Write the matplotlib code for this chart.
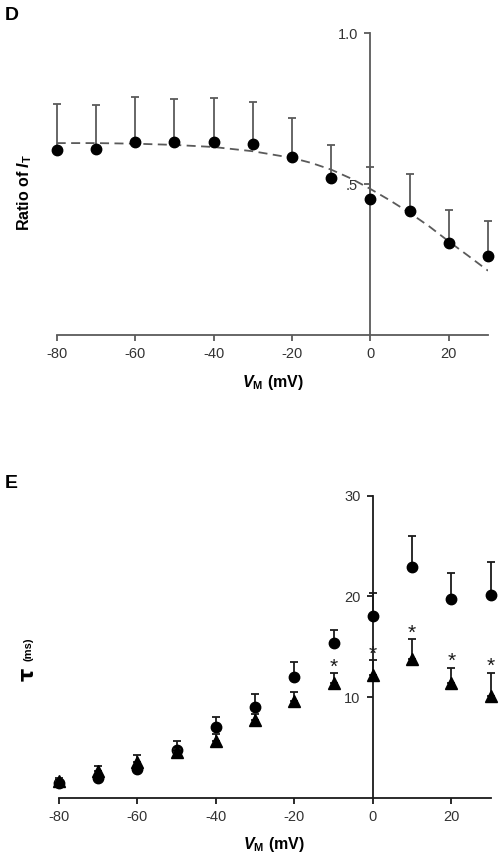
import matplotlib
matplotlib.use("Agg")
import matplotlib.pyplot as plt

plt.rcParams['font.family'] = ['Liberation Sans', 'DejaVu Sans']
plt.rcParams['axes.unicode_minus'] = False
plt.rcParams['mathtext.fontset'] = 'custom'
plt.rcParams['mathtext.rm'] = 'Liberation Sans'
plt.rcParams['mathtext.it'] = 'Liberation Sans:italic'
plt.rcParams['mathtext.bf'] = 'Liberation Sans:bold'
plt.rcParams['mathtext.bfit'] = 'Liberation Sans:italic:bold'

# Panel D: ratio of I_T vs membrane potential
v_d = [-80, -70, -60, -50, -40, -30, -20, -10, 0, 10, 20, 30]
ratio = [0.612, 0.617, 0.639, 0.639, 0.641, 0.632, 0.590, 0.519, 0.451, 0.410, 0.305, 0.261]
ratio_err = [0.154, 0.144, 0.150, 0.142, 0.145, 0.140, 0.130, 0.110, 0.107, 0.124, 0.110, 0.117]

# dashed fit curve
fit_v = [-80, -70, -60, -50, -40, -30, -20, -15, -10, -5, 0, 5, 10, 15, 20, 25, 30]
fit_y = [0.636, 0.636, 0.634, 0.630, 0.623, 0.609, 0.587, 0.570, 0.548, 0.519, 0.484, 0.446, 0.405, 0.360, 0.310, 0.262, 0.213]

# Panel E: time constants, control (circles) and treated (triangles)
v_e = [-80, -70, -60, -50, -40, -30, -20, -10, 0, 10, 20, 30]
tau_circ = [1.46, 1.95, 2.85, 4.76, 7.07, 9.06, 12.03, 15.35, 18.1, 22.95, 19.74, 20.14]
tau_circ_err = [0.3, 0.3, 0.3, 0.92, 1.0, 1.25, 1.46, 1.32, 2.2, 3.05, 2.6, 3.26]
tau_tri = [1.7, 2.7, 3.56, 4.6, 5.65, 7.74, 9.62, 11.38, 12.2, 13.79, 11.38, 10.12]
tau_tri_err = [0.3, 0.47, 0.74, 0.3, 0.7, 0.56, 0.93, 1.0, 1.5, 1.95, 1.55, 2.3]
signif = [-10, 0, 10, 20, 30]

fig = plt.figure(figsize=(5.03, 8.64), dpi=100)

grey = '#5a5a5a'
dark = '#1a1a1a'

# ---- D ----
axd = fig.add_axes([0.1127, 0.6123, 0.8575, 0.3492])
axd.plot(fit_v, fit_y, ls=(0, (5, 3)), color=grey, lw=1.3, zorder=2)
axd.errorbar(v_d, ratio, yerr=[[0] * len(ratio_err), ratio_err], fmt='o', color='black',
             ms=7.5, ecolor=grey, elinewidth=1.3, capsize=3, capthick=1.3, clip_on=False, zorder=3)
axd.set_xlim(-80, 30)
axd.set_ylim(0, 1.0)
axd.spines['top'].set_visible(False)
axd.spines['right'].set_visible(False)
axd.spines['left'].set_position(('data', 0))
for s in ['left', 'bottom']:
    axd.spines[s].set_color(grey)
    axd.spines[s].set_linewidth(1.3)
axd.set_xticks([-80, -60, -40, -20, 0, 20])
axd.set_yticks([0.5, 1.0])
axd.set_yticklabels(['.5', '1.0'])
axd.tick_params(colors=grey, labelcolor='#333333', labelsize=10.5, length=4, width=1.3, pad=5)
axd.patch.set_visible(False)

fig.text(273 / 503, 1 - 382 / 864, r'$\mathbfit{V}_\mathbf{M}$ (mV)',
         ha='center', va='center', fontsize=11.5, fontweight='bold')
fig.text(25 / 503, 1 - 192 / 864, r'Ratio of $\mathbfit{I}_\mathbf{T}$', rotation=90,
         ha='center', va='center', fontsize=11.5, fontweight='bold')
fig.text(5 / 503, 1 - 15 / 864, 'D', ha='left', va='center', fontsize=14, fontweight='bold')

# ---- E ----
axe = fig.add_axes([0.1167, 0.0764, 0.8588, 0.3499])
axe.errorbar(v_e, tau_circ, yerr=[[0] * len(tau_circ_err), tau_circ_err], fmt='o', color='black',
             ms=7.5, ecolor=dark, elinewidth=1.3, capsize=3, capthick=1.3, clip_on=False, zorder=3)
axe.errorbar(v_e, tau_tri, yerr=[[0] * len(tau_tri_err), tau_tri_err], fmt='^', color='black',
             ms=8, ecolor=dark, elinewidth=1.3, capsize=3, capthick=1.3, clip_on=False, zorder=4)
for v in signif:
    i = v_e.index(v)
    axe.annotate('*', (v, tau_tri[i] + tau_tri_err[i]), xytext=(0, -2.5), textcoords='offset points',
                 ha='center', va='bottom', fontsize=15, color=dark)
axe.set_xlim(-80, 30)
axe.set_ylim(0, 30)
axe.spines['top'].set_visible(False)
axe.spines['right'].set_visible(False)
axe.spines['left'].set_position(('data', 0))
for s in ['left', 'bottom']:
    axe.spines[s].set_color(dark)
    axe.spines[s].set_linewidth(1.3)
axe.set_xticks([-80, -60, -40, -20, 0, 20])
axe.set_yticks([10, 20, 30])
axe.tick_params(colors=dark, labelcolor='#333333', labelsize=10.5, length=4, width=1.3, pad=5)
axe.patch.set_visible(False)

fig.text(274 / 503, 1 - 845 / 864, r'$\mathbfit{V}_\mathbf{M}$ (mV)',
         ha='center', va='center', fontsize=11.5, fontweight='bold')
fig.text(28 / 503, 1 - 674 / 864, 'τ', rotation=90, ha='center', va='center',
         fontsize=15, fontweight='bold', family='DejaVu Sans')
fig.text(28 / 503, 1 - 649 / 864, '(ms)', rotation=90, ha='center', va='center',
         fontsize=8, fontweight='bold')
fig.text(5 / 503, 1 - 483 / 864, 'E', ha='left', va='center', fontsize=14, fontweight='bold')

fig.savefig('out.png', dpi=100)
